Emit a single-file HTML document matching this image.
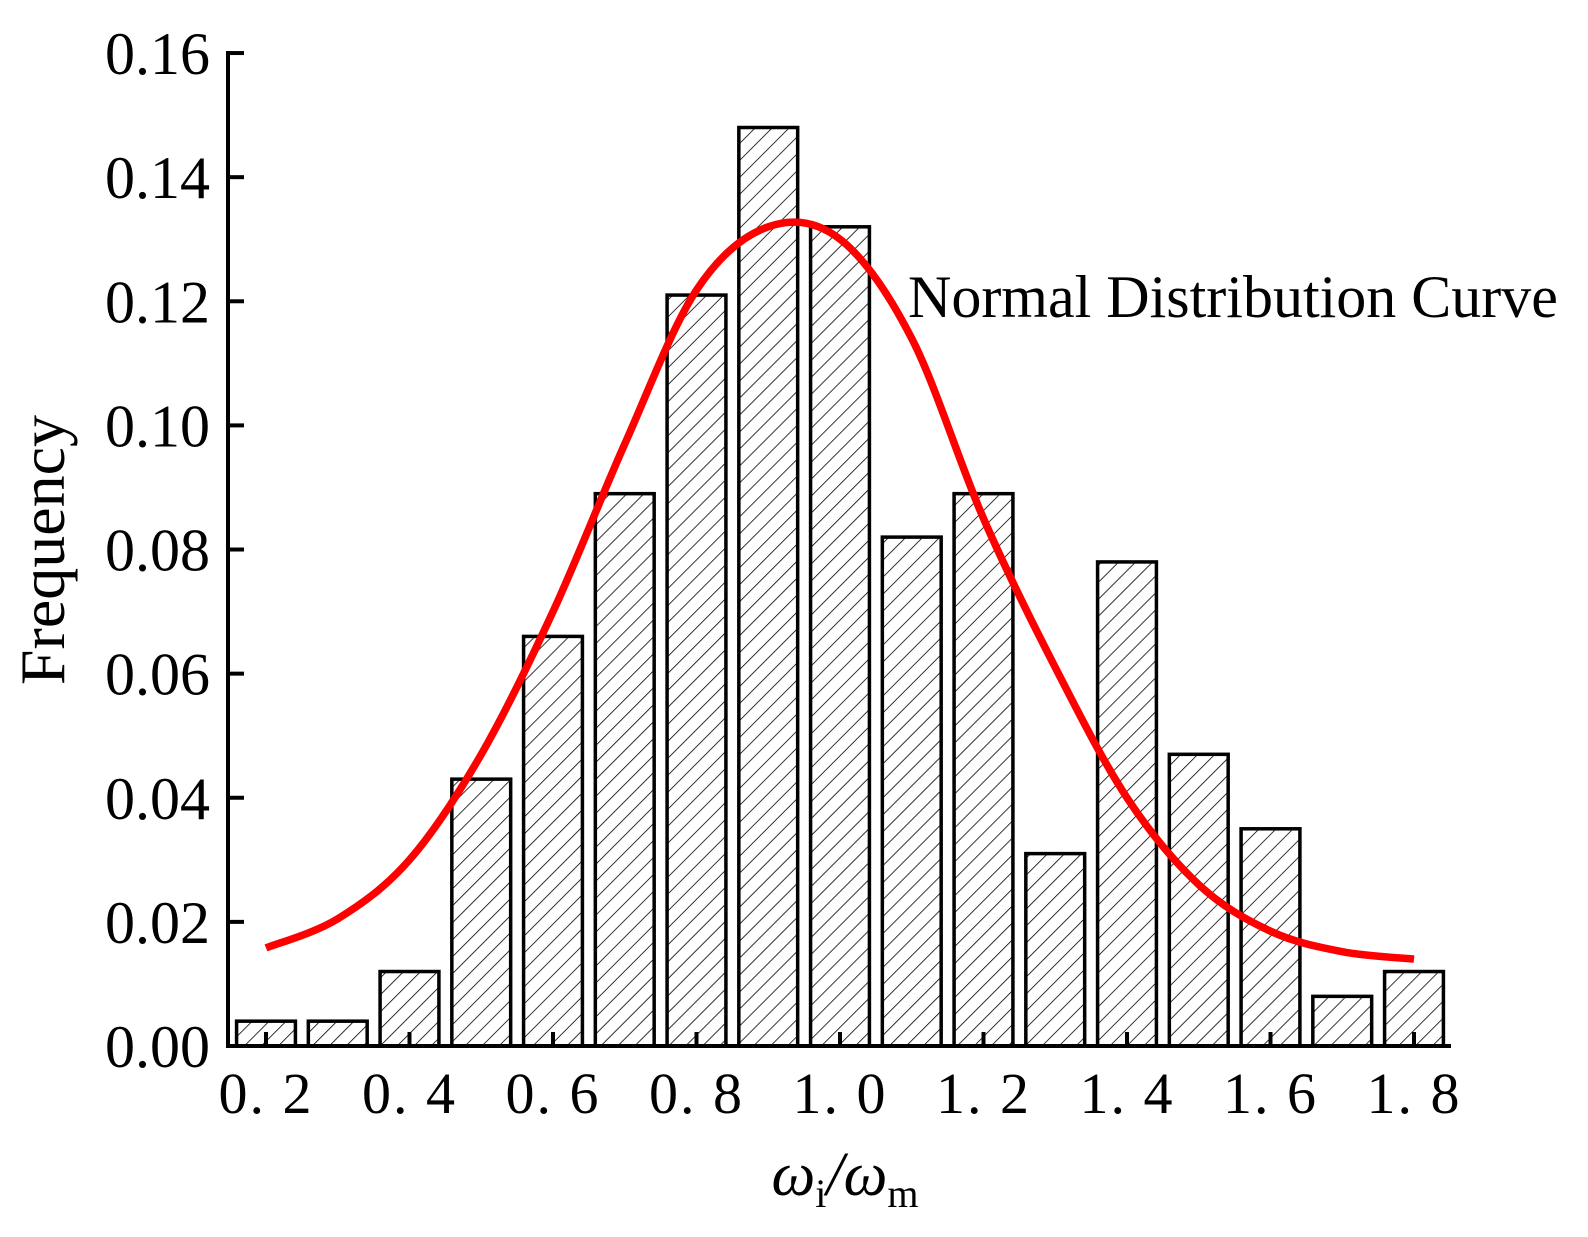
<!DOCTYPE html>
<html><head><meta charset="utf-8"><style>
html,body{margin:0;padding:0;background:#fff;}
svg{display:block;}
text{font-family:"Liberation Serif",serif;fill:#000;}
</style></head><body>
<svg id="chart" width="1588" height="1237" viewBox="0 0 1588 1237" xmlns="http://www.w3.org/2000/svg">
<defs>
<pattern id="hatch" patternUnits="userSpaceOnUse" width="12" height="12" patternTransform="rotate(45)">
<line x1="0" y1="0" x2="0" y2="12" stroke="#000" stroke-width="1.6"/>
</pattern>
</defs>
<g id="bars"></g>
<g id="axes"></g>
<path id="curve" fill="none" stroke="#ff0000" stroke-width="7.5" stroke-linecap="butt"/>
<text x="908" y="317" font-size="60">Normal Distribution Curve</text>
<text transform="translate(64,550) rotate(-90)" text-anchor="middle" font-size="64">Frequency</text>
<text x="845" y="1195" text-anchor="middle" font-size="62" font-style="italic">ω<tspan font-size="40" dy="12" font-style="normal">i</tspan><tspan dy="-12">/ω</tspan><tspan font-size="40" dy="12" font-style="normal">m</tspan></text>
</svg>
<script>
const binCenters=[0.2,0.3,0.4,0.5,0.6,0.7,0.8,0.9,1.0,1.1,1.2,1.3,1.4,1.5,1.6,1.7,1.8];
const frequencies=[0.004,0.004,0.012,0.043,0.066,0.089,0.121,0.148,0.132,0.082,0.089,0.031,0.078,0.047,0.035,0.008,0.012];
const curveX=[0.2,0.3,0.4,0.5,0.6,0.7,0.8,0.9,1.0,1.1,1.2,1.3,1.4,1.5,1.6,1.7,1.8];
const curveY=[0.0158,0.0205,0.030,0.047,0.070,0.097,0.1218,0.132,0.130,0.114,0.085,0.061,0.040,0.026,0.0185,0.0152,0.014];
const yTicks=[0,0.02,0.04,0.06,0.08,0.10,0.12,0.14,0.16];
const yTickLabels=["0.00","0.02","0.04","0.06","0.08","0.10","0.12","0.14","0.16"];
const xTicks=[0.2,0.4,0.6,0.8,1.0,1.2,1.4,1.6,1.8];
const xTickLabels=["0. 2","0. 4","0. 6","0. 8","1. 0","1. 2","1. 4","1. 6","1. 8"];

const NS="http://www.w3.org/2000/svg";
const X0=266,PX=717.5;
const Y0=1046,PY=6206;
function sx(v){return X0+(v-0.2)*PX;}
function sy(v){return Y0-v*PY;}
function mk(tag,attrs,parent){const e=document.createElementNS(NS,tag);for(const k in attrs)e.setAttribute(k,attrs[k]);parent.appendChild(e);return e;}

const bars=document.getElementById('bars');
const bw=0.082;
binCenters.forEach((c,i)=>{
  const x1=sx(c-bw/2),x2=sx(c+bw/2),y=sy(frequencies[i]);
  const r=mk('rect',{x:x1,y:y,width:x2-x1,height:Y0-y,fill:'url(#hatch)',stroke:'#000','stroke-width':3.5},bars);
  
  
});

const axes=document.getElementById('axes');
const ya=mk('line',{x1:228,y1:51,x2:228,y2:Y0+2,stroke:'#000','stroke-width':4},axes);


const xa=mk('line',{x1:226,y1:Y0,x2:1451,y2:Y0,stroke:'#000','stroke-width':4},axes);


yTicks.forEach((v,i)=>{
  const y=sy(v);
  const t=mk('line',{x1:228,y1:y,x2:244,y2:y,stroke:'#000','stroke-width':4},axes);
  
  
  const l=mk('text',{x:210,y:y+21,'text-anchor':'end','font-size':60},axes);
  l.textContent=yTickLabels[i];
  
  
});
xTicks.forEach((v,i)=>{
  const x=sx(v);
  const t=mk('line',{x1:x,y1:Y0,x2:x,y2:Y0-14,stroke:'#000','stroke-width':4},axes);
  
  
  const l=mk('text',{x:x,y:1113,'text-anchor':'middle','font-size':58,'letter-spacing':'2'},axes);
  l.textContent=xTickLabels[i];
  
  
});

const pts=curveX.map((x,i)=>[sx(x),sy(curveY[i])]);
let d='M'+pts[0][0]+','+pts[0][1];
for(let i=0;i<pts.length-1;i++){
  const p0=pts[i-1]||pts[i],p1=pts[i],p2=pts[i+1],p3=pts[i+2]||p2;
  const c1=[p1[0]+(p2[0]-p0[0])/6,p1[1]+(p2[1]-p0[1])/6];
  const c2=[p2[0]-(p3[0]-p1[0])/6,p2[1]-(p3[1]-p1[1])/6];
  d+=' C'+c1[0]+','+c1[1]+' '+c2[0]+','+c2[1]+' '+p2[0]+','+p2[1];
}
document.getElementById('curve').setAttribute('d',d);
</script>
</body></html>
